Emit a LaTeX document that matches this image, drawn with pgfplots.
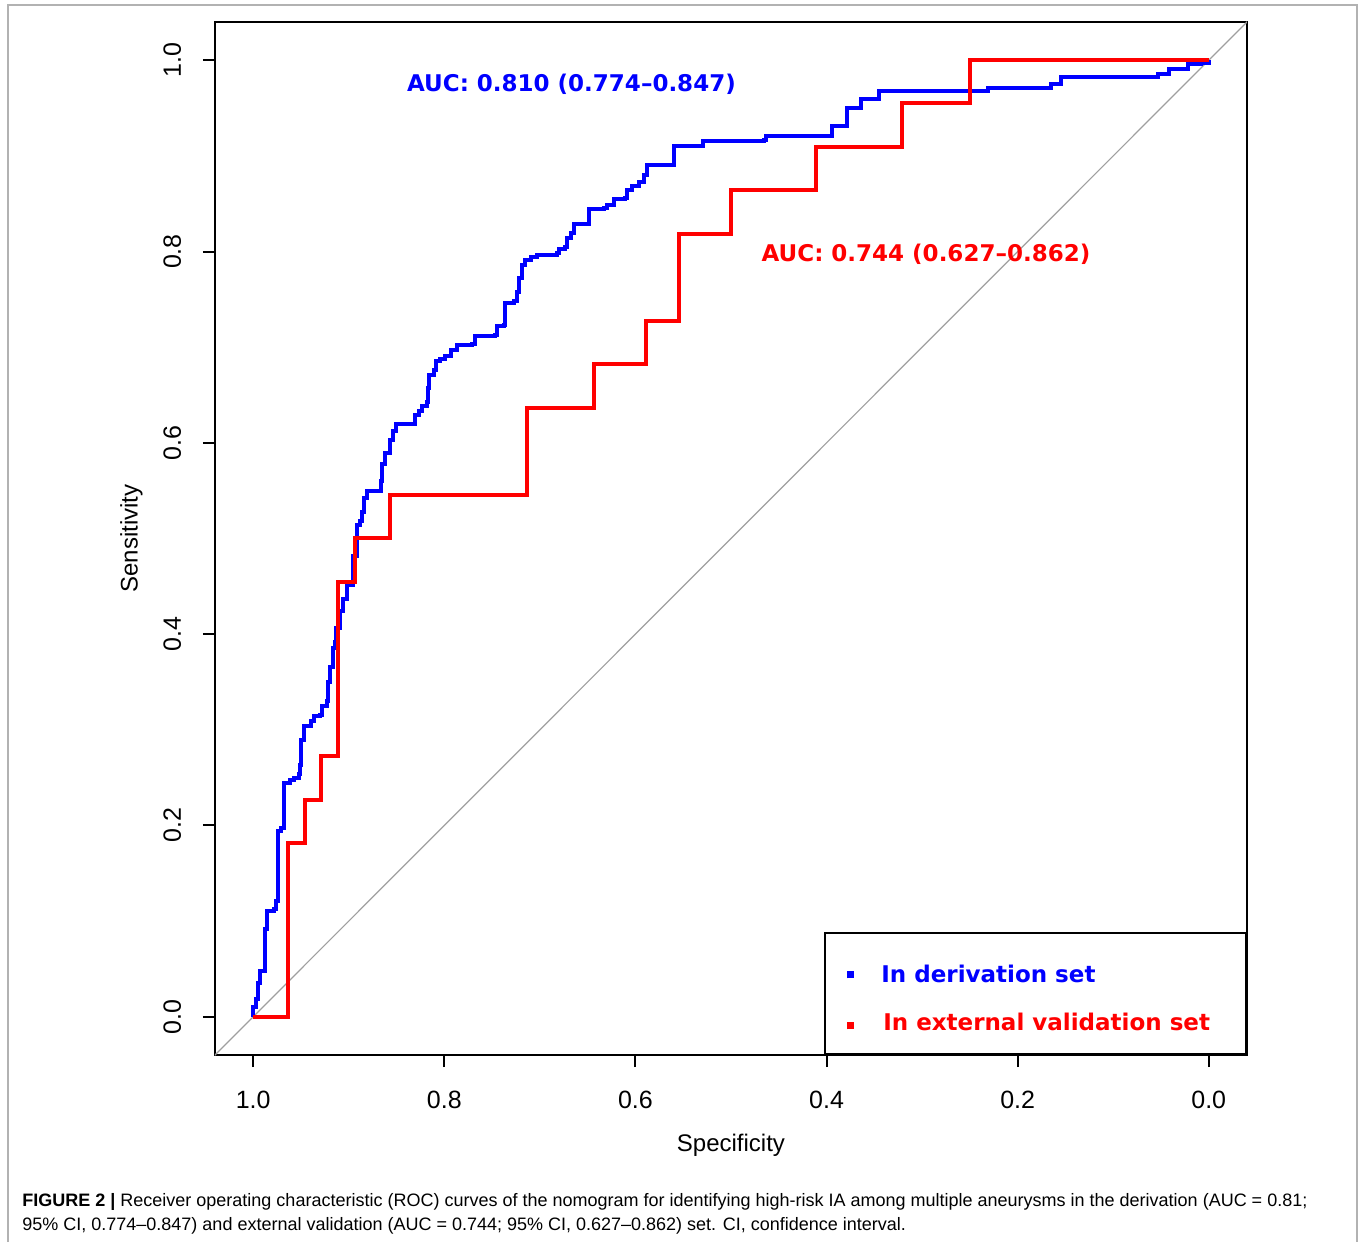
\documentclass[border=0pt]{standalone}
\usepackage{fontspec}
\setmainfont{Liberation Sans}
\newfontfamily\dejavu{DejaVu Sans}
\usepackage{pgfplots}
\pgfplotsset{compat=1.18}
\definecolor{rblue}{RGB}{0,0,255}
\definecolor{rred}{RGB}{255,0,0}
\newcommand\legfont{\dejavu\bfseries\fontsize{11.5}{13}\selectfont}
\begin{document}
\begin{tikzpicture}
\path (0pt,0pt) rectangle (680pt,621pt);
\draw[gray!60, line width=0.6pt] (4pt,0pt) -- (4pt,618.5pt) -- (678.5pt,618.5pt) -- (678.5pt,0pt);
\begin{axis}[
  at={(107.5pt,93.5pt)}, anchor=south west,
  scale only axis, width=516pt, height=516.5pt,
  x dir=reverse,
  xmin=-0.04, xmax=1.04, ymin=-0.04, ymax=1.04,
  axis line style={line width=1pt},
  xtick={0,0.2,0.4,0.6,0.8,1}, xticklabels={0.0,0.2,0.4,0.6,0.8,1.0},
  ytick={0,0.2,0.4,0.6,0.8,1}, yticklabels={0.0,0.2,0.4,0.6,0.8,1.0},
  tick align=outside, tick pos=left,
  major tick length=6pt,
  tick style={line width=1pt, black},
  ticklabel style={font=\fontsize{12.5}{14}\selectfont},
  xticklabel style={anchor=center, yshift=-16.5pt},
  yticklabel style={rotate=90, anchor=center},
  yticklabel shift=15.3pt,
  xlabel={Specificity}, ylabel={Sensitivity},
  label style={font=\fontsize{12}{14}\selectfont},
  xlabel style={at={(axis description cs:0.5,-0.0871)}, anchor=center},
  ylabel style={at={(axis description cs:-0.081,0.5)}, anchor=center},
  clip mode=individual,
]
\addplot[gray!75, line width=0.6pt] coordinates {(1.06,-0.06) (-0.06,1.06)};
\addplot[rblue, line width=2pt, const plot mark left] coordinates {
(1.000,0.000) (1.000,0.010) (0.997,0.019) (0.995,0.035) (0.993,0.048)
(0.988,0.092) (0.986,0.111) (0.978,0.113) (0.976,0.121) (0.974,0.194)
(0.971,0.197) (0.968,0.202) (0.968,0.244) (0.962,0.247) (0.957,0.250)
(0.952,0.254) (0.951,0.263) (0.950,0.289) (0.947,0.304) (0.940,0.309)
(0.936,0.314) (0.930,0.315) (0.928,0.325) (0.923,0.330) (0.922,0.350)
(0.920,0.366) (0.917,0.385) (0.914,0.392) (0.913,0.406) (0.909,0.424)
(0.906,0.437) (0.902,0.451) (0.896,0.458) (0.896,0.482) (0.891,0.500)
(0.891,0.514) (0.888,0.518) (0.886,0.528) (0.884,0.542) (0.881,0.550)
(0.867,0.550) (0.866,0.560) (0.865,0.578) (0.862,0.589) (0.857,0.603)
(0.854,0.612) (0.851,0.620) (0.832,0.620) (0.831,0.629) (0.827,0.633)
(0.823,0.639) (0.818,0.643) (0.817,0.657) (0.816,0.671) (0.811,0.676)
(0.809,0.686) (0.805,0.688) (0.799,0.691) (0.793,0.697) (0.787,0.702)
(0.771,0.703) (0.768,0.712) (0.747,0.713) (0.745,0.722) (0.738,0.723)
(0.737,0.746) (0.727,0.748) (0.724,0.758) (0.722,0.772) (0.719,0.786)
(0.716,0.791) (0.709,0.794) (0.703,0.796) (0.682,0.799) (0.680,0.803)
(0.674,0.805) (0.672,0.814) (0.667,0.819) (0.664,0.829) (0.651,0.829)
(0.649,0.845) (0.633,0.846) (0.630,0.849) (0.623,0.849) (0.622,0.855)
(0.611,0.856) (0.609,0.864) (0.604,0.869) (0.596,0.873) (0.591,0.880)
(0.588,0.890) (0.562,0.891) (0.560,0.910) (0.531,0.910) (0.529,0.916)
(0.465,0.917) (0.463,0.921) (0.394,0.921) (0.394,0.931) (0.379,0.931)
(0.379,0.950) (0.364,0.950) (0.364,0.960) (0.345,0.960) (0.345,0.968)
(0.231,0.968) (0.231,0.971) (0.165,0.971) (0.165,0.975) (0.155,0.982)
(0.053,0.982) (0.053,0.986) (0.042,0.991) (0.022,0.991) (0.022,0.996)
(0.008,0.997) (0.000,1.000)
};
\addplot[rred, line width=2pt] coordinates {
(1.000,0.000) (0.964,0.000) (0.964,0.182) (0.946,0.182) (0.946,0.227)
(0.929,0.227) (0.929,0.273) (0.911,0.273) (0.911,0.455) (0.893,0.455)
(0.893,0.500) (0.857,0.500) (0.857,0.545) (0.714,0.545) (0.714,0.636)
(0.643,0.636) (0.643,0.682) (0.589,0.682) (0.589,0.727) (0.554,0.727)
(0.554,0.818) (0.500,0.818) (0.500,0.864) (0.411,0.864) (0.411,0.909)
(0.321,0.909) (0.321,0.955) (0.250,0.955) (0.250,1.000) (0.000,1.000)
};
\node[font=\legfont, text=rblue] at (axis cs:0.667,0.975) {AUC: 0.810 (0.774–0.847)};
\node[font=\legfont, text=rred] at (axis cs:0.296,0.797) {AUC: 0.744 (0.627–0.862)};
% legend box
\node[draw=black, line width=1pt, fill=white, anchor=south east, inner sep=0pt,
      minimum width=210.5pt, minimum height=60.5pt] at (rel axis cs:1,0) {};
\node[inner sep=0pt] at (axis cs:0.375,0.0439) {\textcolor{rblue}{\rule{3.6pt}{3.6pt}}};
\node[inner sep=0pt] at (axis cs:0.375,-0.0094) {\textcolor{rred}{\rule{3.6pt}{3.6pt}}};
\node[anchor=west, inner sep=0pt, font=\legfont, text=rblue] at (axis cs:0.343,0.045) {In derivation set};
\node[anchor=west, inner sep=0pt, font=\legfont, text=rred] at (axis cs:0.341,-0.005) {In external validation set};
\end{axis}
\node[anchor=base west, font=\fontsize{9}{12}\selectfont, inner sep=0pt] at (11pt,18pt) {\textbf{FIGURE 2 |} Receiver operating characteristic (ROC) curves of the nomogram for identifying high-risk IA among multiple aneurysms in the derivation (AUC = 0.81;};
\node[anchor=base west, font=\fontsize{9}{12}\selectfont, inner sep=0pt] at (11pt,6pt) {95\% CI, 0.774–0.847) and external validation (AUC = 0.744; 95\% CI, 0.627–0.862) set. CI, confidence interval.};
\end{tikzpicture}
\end{document}
